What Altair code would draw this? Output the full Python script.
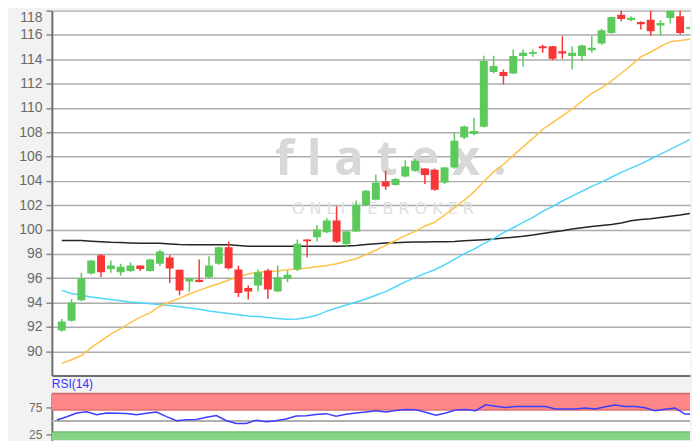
import altair as alt
import pandas as pd

# ---------------- data ----------------
opens = [91.7, 92.5, 94.2, 96.4, 97.9, 96.75, 96.5, 96.6, 97.05, 96.6,
         97.2, 97.7, 96.7, 95.74, 95.87, 96.09, 97.19, 98.55, 96.72, 95.19,
         95.41, 96.64, 94.92, 95.96, 96.72, 99.18, 99.37, 99.78, 100.74, 98.82,
         99.84, 102.0, 102.45, 103.95, 103.66, 104.37, 104.84, 105.02, 104.92, 103.88,
         105.1, 107.57, 107.85, 108.45, 112.95, 112.95, 112.84, 114.26, 114.45, 115.08,
         115.08, 114.67, 114.26, 114.26, 114.75, 115.3, 116.17, 117.67, 117.22, 117.07,
         117.26, 116.77, 117.4, 117.54, 116.5]
highs = [92.65, 94.3, 96.45, 97.5, 98.0, 97.45, 97.2, 97.3, 97.05, 97.6,
         98.35, 97.9, 96.7, 96.05, 97.54, 97.81, 98.6, 99.02, 97.05, 95.41,
         96.72, 96.78, 97.05, 96.64, 99.18, 99.2, 100.38, 100.93, 101.91, 99.9,
         102.4, 103.25, 104.5, 104.84, 104.25, 105.7, 105.8, 105.05, 104.95, 105.15,
         107.98, 108.55, 109.2, 114.3, 114.3, 113.17, 114.8, 114.8, 114.8, 115.2,
         115.1, 115.9, 115.08, 115.2, 115.9, 116.5, 117.5, 118.22, 117.54, 117.13,
         119.0, 117.21, 118.7, 118.3, 116.7]
lows = [91.6, 92.45, 94.1, 96.3, 96.1, 96.45, 96.2, 96.5, 96.6, 96.55,
        97.0, 95.6, 94.6, 94.86, 95.68, 96.0, 97.1, 96.72, 94.45, 94.26,
        94.92, 94.32, 94.9, 95.68, 96.6, 97.73, 99.02, 99.7, 98.9, 98.6,
        99.8, 101.95, 102.4, 103.28, 103.6, 104.3, 104.75, 103.74, 103.2, 103.75,
        105.0, 107.45, 107.75, 108.4, 112.85, 111.94, 112.8, 113.38, 114.2, 114.53,
        113.93, 114.04, 113.17, 113.85, 114.53, 115.2, 116.1, 117.13, 117.13, 116.44,
        115.95, 115.95, 116.94, 116.03, 116.45]
closes = [92.45, 94.0, 96.0, 97.45, 96.5, 97.05, 96.95, 97.05, 96.75, 97.55,
          98.2, 96.8, 95.0, 96.0, 95.7, 97.05, 98.55, 96.83, 94.78, 94.92,
          96.5, 95.08, 96.09, 96.28, 98.83, 99.04, 100.0, 100.74, 99.0, 99.84,
          102.05, 103.2, 103.85, 103.55, 104.15, 105.19, 105.66, 104.48, 103.28, 105.1,
          107.3, 108.47, 108.1, 113.85, 113.44, 112.62, 114.26, 114.53, 114.6, 114.9,
          114.04, 114.48, 114.53, 115.13, 114.94, 116.39, 117.48, 117.32, 117.42, 116.88,
          116.31, 116.99, 118.22, 116.17, 116.66]
ma_orange = [89.0, 89.3, 89.65, 90.3, 90.85, 91.4, 91.85, 92.35, 92.8, 93.15,
             93.7, 94.05, 94.35, 94.7, 95.0, 95.3, 95.55, 95.85, 96.1, 96.35,
             96.5, 96.55, 96.6, 96.7, 96.75, 96.85, 96.95, 97.05, 97.2, 97.4,
             97.6, 97.95, 98.3, 98.7, 99.1, 99.5, 99.85, 100.3, 100.6, 101.2,
             101.8, 102.4, 103.1, 103.95, 104.75, 105.35, 106.1, 106.8, 107.5, 108.25,
             108.8, 109.35, 109.9, 110.55, 111.2, 111.65, 112.2, 112.85, 113.5, 114.2,
             114.6, 115.05, 115.45, 115.55, 115.65]
ma_cyan = [95.0, 94.75, 94.6, 94.45, 94.35, 94.25, 94.15, 94.05, 93.98, 93.9,
           93.85, 93.75, 93.65, 93.55, 93.45, 93.3, 93.2, 93.1, 93.0, 92.9,
           92.85, 92.78, 92.7, 92.62, 92.65, 92.78, 92.95, 93.3, 93.55, 93.8,
           94.05, 94.3, 94.6, 94.9, 95.3, 95.7, 96.05, 96.4, 96.7, 97.1,
           97.55, 98.0, 98.4, 98.85, 99.25, 99.75, 100.15, 100.6, 101.0, 101.5,
           101.9, 102.35, 102.75, 103.15, 103.55, 103.9, 104.3, 104.7, 105.05, 105.4,
           105.8, 106.2, 106.6, 107.0, 107.4]
ma_black = [99.1, 99.1, 99.1, 99.05, 99.0, 98.95, 98.93, 98.9, 98.88, 98.88,
            98.87, 98.82, 98.78, 98.76, 98.75, 98.75, 98.75, 98.75, 98.7, 98.64,
            98.63, 98.63, 98.63, 98.63, 98.63, 98.63, 98.63, 98.63, 98.63, 98.66,
            98.7, 98.77, 98.84, 98.9, 98.92, 98.95, 98.97, 98.98, 99.0, 99.0,
            99.02, 99.08, 99.12, 99.17, 99.22, 99.3, 99.37, 99.45, 99.55, 99.68,
            99.8, 99.9, 100.05, 100.15, 100.25, 100.33, 100.42, 100.55, 100.72, 100.82,
            100.9, 101.0, 101.1, 101.2, 101.32]
rsi_values = [51.9, 57.9, 64.5, 66.9, 61.5, 64.6, 64.2, 63.8, 61.5, 64.0,
              66.4, 58.0, 50.6, 52.4, 53.0, 57.0, 60.0, 50.6, 45.8, 45.8,
              51.5, 49.0, 50.6, 53.7, 59.1, 59.5, 62.0, 63.5, 59.0, 62.5,
              64.5, 66.5, 68.7, 66.4, 69.0, 71.1, 70.5, 66.0, 60.5, 64.5,
              70.0, 71.1, 68.7, 79.6, 77.0, 74.7, 76.5, 76.5, 76.5, 76.5,
              71.8, 71.8, 71.8, 73.6, 71.8, 76.0, 79.0, 76.5, 76.5, 74.0,
              68.7, 71.5, 73.6, 62.7, 62.7]
price_ticks = [90, 92, 94, 96, 98, 100, 102, 104, 106, 108, 110, 112, 114, 116, 118]
rsi_ticks = [25, 75]
rsi_high_zone = [70, 100]
rsi_low_zone = [0, 30]
rsi_mid = [50]

# ---------------- styling ----------------
GREEN = "#5cc95c"
RED = "#f83636"
FONT = "Liberation Sans"

n = len(opens)
df = pd.DataFrame({
    "i": list(range(n)), "open": opens, "high": highs, "low": lows, "close": closes,
    "ma1": ma_orange, "ma2": ma_cyan, "ma3": ma_black, "rsi": rsi_values,
})

xsc = alt.Scale(domain=[-0.5, 63.5], nice=False, zero=False)
ysc = alt.Scale(domain=[88, 118], nice=False, zero=False)
rsc = alt.Scale(domain=[15, 100], nice=False, zero=False)

yaxis = alt.Axis(values=price_ticks, title=None, grid=True, gridColor="#ababab",
                 gridWidth=1.5, domainColor="#6e6e6e", domainWidth=2,
                 tickColor="#8a8a8a", tickSize=6, tickWidth=1.5,
                 labelColor="#6a6a6a", labelFontSize=14, labelFont=FONT,
                 labelPadding=4, labelFlush=True)
raxis = alt.Axis(values=rsi_ticks, title=None, grid=False,
                 domainColor="#6e6e6e", domainWidth=2,
                 tickColor="#8a8a8a", tickSize=6, tickWidth=1.5,
                 labelColor="#6a6a6a", labelFontSize=12, labelFont=FONT,
                 labelPadding=4)
xaxis_main = alt.Axis(labels=False, ticks=False, grid=False, domain=True,
                      domainColor="#6e6e6e", domainWidth=2, title=None)

base = alt.Chart(df)
X = alt.X("i:Q", scale=xsc, axis=xaxis_main)


def Y(field):
    return alt.Y(f"{field}:Q", scale=ysc, axis=yaxis)


one = alt.Chart(pd.DataFrame({"k": [0]}))
wm1 = one.mark_text(text="f l a t e x .", font="Open Sans", fontSize=49,
                    fontWeight="bold", color="#d8d8d8", align="center",
                    baseline="alphabetic").encode(x=alt.value(340), y=alt.value(165))
wm2 = one.mark_text(text="O N L I N E   B R O K E R", font="DejaVu Sans",
                    fontSize=16, color="#e0e0e0", align="center",
                    baseline="alphabetic").encode(x=alt.value(332), y=alt.value(204))

l_black = base.mark_line(color="#262626", strokeWidth=1.5, clip=True).encode(x=X, y=Y("ma3"))
l_cyan = base.mark_line(color="#4fd6fb", strokeWidth=1.5, clip=True).encode(x=X, y=Y("ma2"))
l_orange = base.mark_line(color="#ffc24a", strokeWidth=1.5, clip=True).encode(x=X, y=Y("ma1"))

cond = alt.condition("datum.close >= datum.open", alt.value(GREEN), alt.value(RED))
wicks = base.mark_rule(strokeWidth=1.5, clip=True).encode(
    x=X, y=Y("low"), y2="high:Q", color=cond)
bodies = base.mark_bar(size=8, clip=True).encode(
    x=X, y=Y("open"), y2="close:Q", color=cond)

main = alt.layer(wm1, wm2, l_black, l_cyan, l_orange, wicks, bodies).properties(
    width=640, height=366)

# ---------------- RSI panel ----------------
zones = pd.DataFrame({"lo": [rsi_high_zone[0], rsi_low_zone[0]],
                      "hi": [rsi_high_zone[1], rsi_low_zone[1]],
                      "zone": ["high", "low"]})


def RY(f):
    return alt.Y(f, scale=rsc, axis=raxis)


red_zone = alt.Chart(zones).transform_filter("datum.zone == 'high'").mark_rect(
    color="#ff8787", clip=True).encode(y=RY("lo:Q"), y2="hi:Q")
green_zone = alt.Chart(zones).transform_filter("datum.zone == 'low'").mark_rect(
    color="#85d385", clip=True).encode(y=RY("lo:Q"), y2="hi:Q")
rule_top = alt.Chart(zones).transform_filter("datum.zone == 'high'").mark_rule(
    color="#c96a6a", strokeWidth=1.5).encode(y=RY("hi:Q"))
rule_hi = alt.Chart(zones).transform_filter("datum.zone == 'high'").mark_rule(
    color="#e36f6f", strokeWidth=1.5).encode(y=RY("lo:Q"))
rule_lo = alt.Chart(zones).transform_filter("datum.zone == 'low'").mark_rule(
    color="#6cbf6c", strokeWidth=1.5).encode(y=RY("hi:Q"))
rule_mid = alt.Chart(pd.DataFrame({"v": rsi_mid})).mark_rule(
    color="#b0b0b0", strokeWidth=2).encode(y=RY("v:Q"))
rsi_line = base.mark_line(color="#3d3dff", strokeWidth=1.5, clip=True).encode(
    x=alt.X("i:Q", scale=xsc, axis=None), y=RY("rsi:Q"))

rsi = alt.layer(red_zone, green_zone, rule_mid, rule_hi, rule_lo, rule_top,
                rsi_line).properties(
    width=640, height=47,
    title=alt.TitleParams("RSI(14)", anchor="start", frame="group", fontSize=12,
                          font=FONT, fontWeight="normal", color="#3535ff", offset=2))

chart = alt.vconcat(main, rsi, spacing=0).resolve_scale(
    x="independent", y="independent").properties(
    padding={"left": 10, "top": 0, "right": 0, "bottom": 0}
).configure(background="#f2f2f2").configure_view(fill="white", stroke="transparent")

chart.save("out.html", embed_options={"renderer": "svg", "actions": False})
